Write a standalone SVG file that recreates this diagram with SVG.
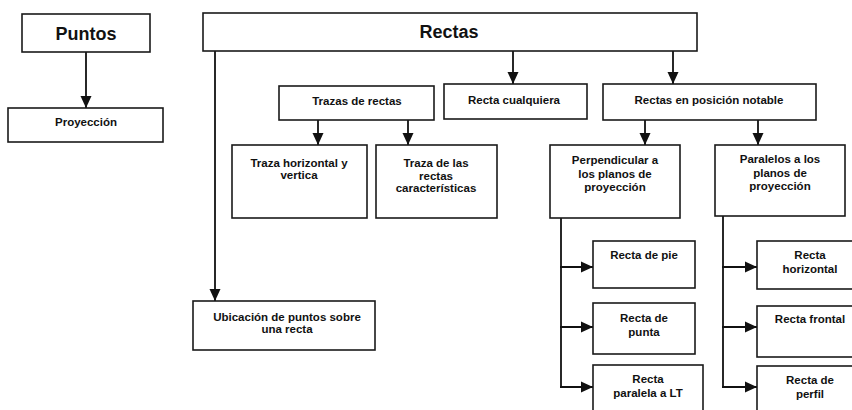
<svg xmlns="http://www.w3.org/2000/svg" width="852" height="410" viewBox="0 0 852 410">
<defs>
<style>
.box{fill:#fff;stroke:#1a1a1a;stroke-width:1.6}
.t{font-family:"Liberation Sans",Arial,sans-serif;font-weight:bold;font-size:11.5px;fill:#111;text-anchor:middle}
.big{font-size:18px}
.c{fill:none;stroke:#111;stroke-width:1.8}
</style>
<marker id="ah" markerUnits="userSpaceOnUse" markerWidth="12" markerHeight="12" viewBox="0 0 12 12" refX="12" refY="6" orient="auto">
<path d="M0,0.5 L12,6 L0,11.5 z" fill="#111"/>
</marker>
</defs>
<rect width="852" height="410" fill="#fff"/>
<g id="connectors">
<line class="c" x1="86" y1="52" x2="86" y2="108" marker-end="url(#ah)"/>
<line class="c" x1="215" y1="51" x2="215" y2="301" marker-end="url(#ah)"/>
<line class="c" x1="513" y1="51" x2="513" y2="84" marker-end="url(#ah)"/>
<line class="c" x1="673" y1="51" x2="673" y2="84" marker-end="url(#ah)"/>
<line class="c" x1="318" y1="120" x2="318" y2="145" marker-end="url(#ah)"/>
<line class="c" x1="408" y1="120" x2="408" y2="145" marker-end="url(#ah)"/>
<line class="c" x1="645" y1="120" x2="645" y2="145" marker-end="url(#ah)"/>
<line class="c" x1="758" y1="120" x2="758" y2="145" marker-end="url(#ah)"/>
<polyline class="c" points="561,218 561,387"/>
<line class="c" x1="560" y1="267" x2="593" y2="267" marker-end="url(#ah)"/>
<line class="c" x1="560" y1="327" x2="593" y2="327" marker-end="url(#ah)"/>
<line class="c" x1="560" y1="387" x2="593" y2="387" marker-end="url(#ah)"/>
<polyline class="c" points="723,216 723,387"/>
<line class="c" x1="722" y1="267" x2="757" y2="267" marker-end="url(#ah)"/>
<line class="c" x1="722" y1="327" x2="757" y2="327" marker-end="url(#ah)"/>
<line class="c" x1="722" y1="387" x2="757" y2="387" marker-end="url(#ah)"/>
</g>
<g id="puntos"><rect class="box" x="22" y="14" width="128" height="38"/><text class="t big" x="86" y="40">Puntos</text></g>
<g id="proyeccion"><rect class="box" x="8" y="108" width="155" height="34"/><text class="t" x="86" y="126">Proyección</text></g>
<g id="rectas"><rect class="box" x="203" y="13" width="494" height="38"/><text class="t big" x="449" y="38">Rectas</text></g>
<g id="trazas"><rect class="box" x="279" y="86" width="155" height="34"/><text class="t" x="357" y="105">Trazas de rectas</text></g>
<g id="cualquiera"><rect class="box" x="444" y="84" width="143" height="35"/><text class="t" x="514" y="104">Recta cualquiera</text></g>
<g id="notable"><rect class="box" x="603" y="84" width="213" height="36"/><text class="t" x="709" y="104">Rectas en posición notable</text></g>
<g id="traza-hv"><rect class="box" x="232" y="145" width="135" height="73"/><text class="t" x="299" y="167">Traza horizontal y<tspan x="299" y="179">vertica</tspan></text></g>
<g id="traza-car"><rect class="box" x="376" y="145" width="121" height="73"/><text class="t" x="436" y="167">Traza de las<tspan x="436" y="179.5">rectas</tspan><tspan x="436" y="192">características</tspan></text></g>
<g id="perpendicular"><rect class="box" x="550" y="145" width="130" height="73"/><text class="t" x="615" y="163.5">Perpendicular a<tspan x="615" y="177.5">los planos de</tspan><tspan x="615" y="191">proyección</tspan></text></g>
<g id="paralelos"><rect class="box" x="715" y="145" width="130" height="71"/><text class="t" x="780" y="162.5">Paralelos a los<tspan x="780" y="176.5">planos de</tspan><tspan x="780" y="190">proyección</tspan></text></g>
<g id="ubicacion"><rect class="box" x="193" y="301" width="182" height="49"/><text class="t" x="287" y="320.5">Ubicación de puntos sobre<tspan x="287" y="333">una recta</tspan></text></g>
<g id="pie"><rect class="box" x="593" y="241" width="102" height="47"/><text class="t" x="644" y="259">Recta de pie</text></g>
<g id="punta"><rect class="box" x="593" y="303" width="102" height="51"/><text class="t" x="644" y="322">Recta de<tspan x="644" y="335.5">punta</tspan></text></g>
<g id="paralela-lt"><rect class="box" x="593" y="365" width="110" height="60"/><text class="t" x="648" y="383">Recta<tspan x="648" y="397">paralela a LT</tspan></text></g>
<g id="horizontal"><rect class="box" x="757" y="241" width="106" height="48"/><text class="t" x="810" y="259">Recta<tspan x="810" y="273">horizontal</tspan></text></g>
<g id="frontal"><rect class="box" x="757" y="306" width="106" height="51"/><text class="t" x="810" y="323">Recta frontal</text></g>
<g id="perfil"><rect class="box" x="757" y="366" width="106" height="60"/><text class="t" x="810" y="384">Recta de<tspan x="810" y="398">perfil</tspan></text></g>
</svg>
